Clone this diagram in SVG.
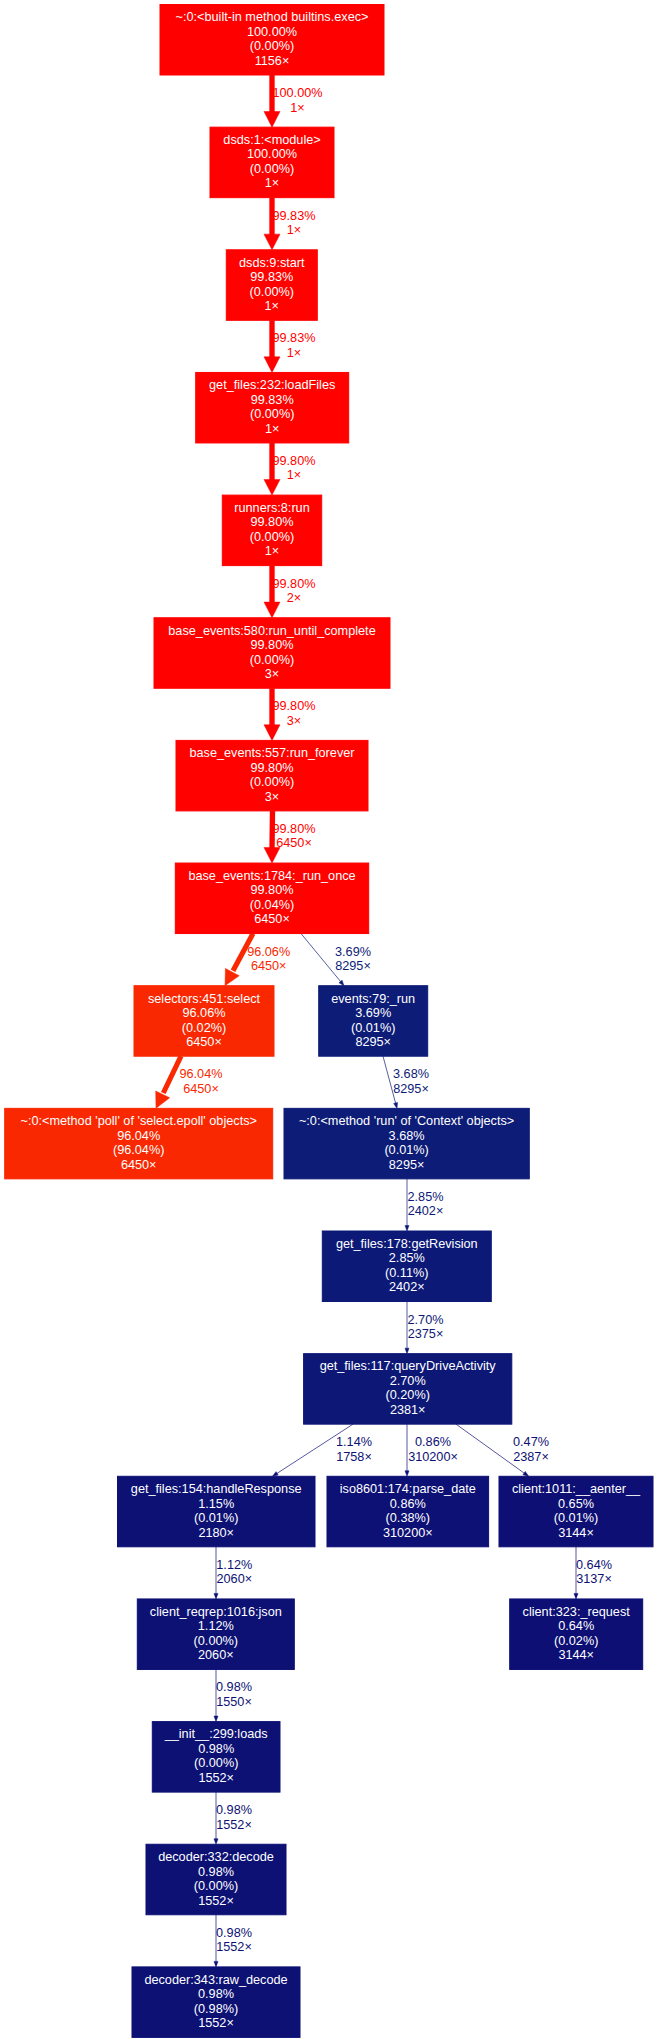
<svg xmlns="http://www.w3.org/2000/svg" width="658" height="2043" viewBox="0 0 658 2043">
<style>
text { font-family: "Liberation Sans", Arial, sans-serif; font-size: 12.7px; text-anchor: middle; }
.node text { fill: #ffffff; }
.edges line { fill: none; }
.thick { stroke-width: 5.33; }
.thin { stroke-width: 0.7; }
.r0 { fill: #ff0000; stroke: #ff0000; }
.r1 { fill: #ff0200; stroke: #ff0200; }
.o1 { fill: #f92801; stroke: #f92801; }
.b1 { fill: #0d1c77; stroke: #0d1c77; }
.b2 { fill: #0d1977; stroke: #0d1977; }
.b3 { fill: #0d1876; stroke: #0d1876; }
.b4 { fill: #0d1174; stroke: #0d1174; }
.b5 { fill: #0d1074; stroke: #0d1074; }
.b6 { fill: #0d0f74; stroke: #0d0f74; }
.b7 { fill: #0d0f73; stroke: #0d0f73; }
.lr0 { fill: #ff0000; }
.lr1 { fill: #ff0200; }
.lo1 { fill: #f92801; }
.lb1 { fill: #0d1c77; }
.lb2 { fill: #0d1977; }
.lb3 { fill: #0d1876; }
.lb4 { fill: #0d1174; }
.lb5 { fill: #0d1074; }
.lb6 { fill: #0d0f74; }
.lb7 { fill: #0d0f73; }
</style>

<g id="edges" class="edges">
  <g id="e1">
    <line class="r0 thick" x1="272" y1="75" x2="272" y2="113"/>
    <polygon class="r0" stroke-width="0.5" points="272,127.15 264,111.5 280,111.5"/>
    <text class="lr0" x="297.5" y="97">100.00%</text>
    <text class="lr0" x="297.5" y="111.5">1×</text>
  </g>
  <g id="e2">
    <line class="r1 thick" x1="272" y1="197.65" x2="272" y2="235.8"/>
    <polygon class="r1" stroke-width="0.5" points="272,249.8 264,234.15 280,234.15"/>
    <text class="lr1" x="294" y="219.65">99.83%</text>
    <text class="lr1" x="294" y="234.15">1×</text>
  </g>
  <g id="e3">
    <line class="r1 thick" x1="272" y1="320.3" x2="272" y2="358.5"/>
    <polygon class="r1" stroke-width="0.5" points="272,372.45 264,356.8 280,356.8"/>
    <text class="lr1" x="294" y="342.3">99.83%</text>
    <text class="lr1" x="294" y="356.8">1×</text>
  </g>
  <g id="e4">
    <line class="r1 thick" x1="272" y1="442.95" x2="272" y2="481.1"/>
    <polygon class="r1" stroke-width="0.5" points="272,495.1 264,479.45 280,479.45"/>
    <text class="lr1" x="294" y="464.95">99.80%</text>
    <text class="lr1" x="294" y="479.45">1×</text>
  </g>
  <g id="e5">
    <line class="r1 thick" x1="272" y1="565.6" x2="272" y2="603.8"/>
    <polygon class="r1" stroke-width="0.5" points="272,617.75 264,602.1 280,602.1"/>
    <text class="lr1" x="294" y="587.6">99.80%</text>
    <text class="lr1" x="294" y="602.1">2×</text>
  </g>
  <g id="e6">
    <line class="r1 thick" x1="272" y1="688.25" x2="272" y2="726.4"/>
    <polygon class="r1" stroke-width="0.5" points="272,740.4 264,724.75 280,724.75"/>
    <text class="lr1" x="294" y="710.25">99.80%</text>
    <text class="lr1" x="294" y="724.75">3×</text>
  </g>
  <g id="e7">
    <line class="r1 thick" x1="272.5" y1="810.9" x2="272" y2="849"/>
    <polygon class="r1" stroke-width="0.5" points="272,863.05 264,847.4 280,847.4"/>
    <text class="lr1" x="294" y="832.9">99.80%</text>
    <text class="lr1" x="294" y="847.4">6450×</text>
  </g>
  <g id="e8">
    <line class="o1" stroke-width="5.12" x1="253" y1="933.55" x2="233" y2="970.7"/>
    <polygon class="o1" stroke-width="0.5" points="225,985.7 239.2,975.7 225.4,968.4"/>
    <text class="lo1" x="268.7" y="955.5">96.06%</text>
    <text class="lo1" x="268.7" y="970">6450×</text>
  </g>
  <g id="e9">
    <line class="b1 thin" x1="301" y1="933.55" x2="340.8" y2="981.8"/>
    <polygon class="b1" stroke-width="0.5" points="344,985.7 342.04,980.19 338.96,982.73"/>
    <text class="lb1" x="353" y="955.5">3.69%</text>
    <text class="lb1" x="353" y="970">8295×</text>
  </g>
  <g id="e10">
    <line class="o1" stroke-width="5.12" x1="181" y1="1056.2" x2="163.3" y2="1093"/>
    <polygon class="o1" stroke-width="0.5" points="156,1108.35 169.73,1097.74 155.67,1091"/>
    <text class="lo1" x="201" y="1078.2">96.04%</text>
    <text class="lo1" x="201" y="1092.7">6450×</text>
  </g>
  <g id="e11">
    <line class="b1 thin" x1="383" y1="1056.2" x2="395.6" y2="1103.2"/>
    <polygon class="b1" stroke-width="0.5" points="397,1108.35 397.5,1102.52 393.64,1103.56"/>
    <text class="lb1" x="411" y="1078.2">3.68%</text>
    <text class="lb1" x="411" y="1092.7">8295×</text>
  </g>
  <g id="e12">
    <line class="b2 thin" x1="407" y1="1178.85" x2="407" y2="1226"/>
    <polygon class="b2" stroke-width="0.5" points="407,1231 405,1225.5 409,1225.5"/>
    <text class="lb2" x="425.5" y="1200.85">2.85%</text>
    <text class="lb2" x="425.5" y="1215.35">2402×</text>
  </g>
  <g id="e13">
    <line class="b3 thin" x1="407" y1="1301.5" x2="407" y2="1348.6"/>
    <polygon class="b3" stroke-width="0.5" points="407,1353.65 405,1348.15 409,1348.15"/>
    <text class="lb3" x="425.5" y="1323.5">2.70%</text>
    <text class="lb3" x="425.5" y="1338">2375×</text>
  </g>
  <g id="e14">
    <line class="b4 thin" x1="353" y1="1424.15" x2="277" y2="1473.4"/>
    <polygon class="b4" stroke-width="0.5" points="272.5,1476.3 278.21,1474.99 276.03,1471.63"/>
    <text class="lb4" x="354" y="1446.15">1.14%</text>
    <text class="lb4" x="354" y="1460.65">1758×</text>
  </g>
  <g id="e15">
    <line class="b5 thin" x1="407" y1="1424.15" x2="407" y2="1471.3"/>
    <polygon class="b5" stroke-width="0.5" points="407,1476.3 405,1470.8 409,1470.8"/>
    <text class="lb5" x="433" y="1446.15">0.86%</text>
    <text class="lb5" x="433" y="1460.65">310200×</text>
  </g>
  <g id="e16">
    <line class="b7 thin" x1="456" y1="1424.15" x2="524" y2="1473"/>
    <polygon class="b7" stroke-width="0.5" points="528.6,1476.3 525.3,1471.47 522.96,1474.71"/>
    <text class="lb7" x="531" y="1446.15">0.47%</text>
    <text class="lb7" x="531" y="1460.65">2387×</text>
  </g>
  <g id="e17">
    <line class="b4 thin" x1="216" y1="1546.8" x2="216" y2="1594"/>
    <polygon class="b4" stroke-width="0.5" points="216,1598.95 214,1593.45 218,1593.45"/>
    <text class="lb4" x="234.3" y="1568.8">1.12%</text>
    <text class="lb4" x="234.3" y="1583.3">2060×</text>
  </g>
  <g id="e18">
    <line class="b6 thin" x1="576" y1="1546.8" x2="576" y2="1594"/>
    <polygon class="b6" stroke-width="0.5" points="576,1598.95 574,1593.45 578,1593.45"/>
    <text class="lb6" x="594" y="1568.8">0.64%</text>
    <text class="lb6" x="594" y="1583.3">3137×</text>
  </g>
  <g id="e19">
    <line class="b4 thin" x1="216" y1="1669.45" x2="216" y2="1716.6"/>
    <polygon class="b4" stroke-width="0.5" points="216,1721.6 214,1716.1 218,1716.1"/>
    <text class="lb4" x="234" y="1691.45">0.98%</text>
    <text class="lb4" x="234" y="1705.95">1550×</text>
  </g>
  <g id="e20">
    <line class="b4 thin" x1="216" y1="1792.1" x2="216" y2="1839.2"/>
    <polygon class="b4" stroke-width="0.5" points="216,1844.25 214,1838.75 218,1838.75"/>
    <text class="lb4" x="234" y="1814.1">0.98%</text>
    <text class="lb4" x="234" y="1828.6">1552×</text>
  </g>
  <g id="e21">
    <line class="b4 thin" x1="216" y1="1914.75" x2="216" y2="1961.9"/>
    <polygon class="b4" stroke-width="0.5" points="216,1966.9 214,1961.4 218,1961.4"/>
    <text class="lb4" x="234" y="1936.75">0.98%</text>
    <text class="lb4" x="234" y="1951.25">1552×</text>
  </g>
</g>

<g id="n_exec" class="node">
  <rect class="r0" x="160" y="4.5" width="224" height="70.5"/>
  <text x="272" y="21.3">~:0:&lt;built-in method builtins.exec&gt;</text>
  <text x="272" y="35.8">100.00%</text>
  <text x="272" y="50.3">(0.00%)</text>
  <text x="272" y="64.8">1156×</text>
</g>
<g id="n_module" class="node">
  <rect class="r0" x="210" y="127.15" width="124" height="70.5"/>
  <text x="272" y="143.95">dsds:1:&lt;module&gt;</text>
  <text x="272" y="158.45">100.00%</text>
  <text x="272" y="172.95">(0.00%)</text>
  <text x="272" y="187.45">1×</text>
</g>
<g id="n_start" class="node">
  <rect class="r1" x="226.3" y="249.8" width="91" height="70.5"/>
  <text x="271.8" y="266.6">dsds:9:start</text>
  <text x="271.8" y="281.1">99.83%</text>
  <text x="271.8" y="295.6">(0.00%)</text>
  <text x="271.8" y="310.1">1×</text>
</g>
<g id="n_loadFiles" class="node">
  <rect class="r1" x="195.7" y="372.45" width="153" height="70.5"/>
  <text x="272.2" y="389.25">get_files:232:loadFiles</text>
  <text x="272.2" y="403.75">99.83%</text>
  <text x="272.2" y="418.25">(0.00%)</text>
  <text x="272.2" y="432.75">1×</text>
</g>
<g id="n_runners" class="node">
  <rect class="r1" x="222.3" y="495.1" width="99.4" height="70.5"/>
  <text x="272" y="511.9">runners:8:run</text>
  <text x="272" y="526.4">99.80%</text>
  <text x="272" y="540.9">(0.00%)</text>
  <text x="272" y="555.4">1×</text>
</g>
<g id="n_run_until_complete" class="node">
  <rect class="r1" x="154" y="617.75" width="236" height="70.5"/>
  <text x="272" y="634.55">base_events:580:run_until_complete</text>
  <text x="272" y="649.05">99.80%</text>
  <text x="272" y="663.55">(0.00%)</text>
  <text x="272" y="678.05">3×</text>
</g>
<g id="n_run_forever" class="node">
  <rect class="r1" x="176" y="740.4" width="192" height="70.5"/>
  <text x="272" y="757.2">base_events:557:run_forever</text>
  <text x="272" y="771.7">99.80%</text>
  <text x="272" y="786.2">(0.00%)</text>
  <text x="272" y="800.7">3×</text>
</g>
<g id="n_run_once" class="node">
  <rect class="r1" x="175.3" y="863.05" width="193.4" height="70.5"/>
  <text x="272" y="879.85">base_events:1784:_run_once</text>
  <text x="272" y="894.35">99.80%</text>
  <text x="272" y="908.85">(0.04%)</text>
  <text x="272" y="923.35">6450×</text>
</g>
<g id="n_select" class="node">
  <rect class="o1" x="134" y="985.7" width="140" height="70.5"/>
  <text x="204" y="1002.5">selectors:451:select</text>
  <text x="204" y="1017">96.06%</text>
  <text x="204" y="1031.5">(0.02%)</text>
  <text x="204" y="1046">6450×</text>
</g>
<g id="n_events_run" class="node">
  <rect class="b1" x="318.7" y="985.7" width="109" height="70.5"/>
  <text x="373.2" y="1002.5">events:79:_run</text>
  <text x="373.2" y="1017">3.69%</text>
  <text x="373.2" y="1031.5">(0.01%)</text>
  <text x="373.2" y="1046">8295×</text>
</g>
<g id="n_poll" class="node">
  <rect class="o1" x="4.7" y="1108.35" width="268" height="70.5"/>
  <text x="138.7" y="1125.15">~:0:&lt;method 'poll' of 'select.epoll' objects&gt;</text>
  <text x="138.7" y="1139.65">96.04%</text>
  <text x="138.7" y="1154.15">(96.04%)</text>
  <text x="138.7" y="1168.65">6450×</text>
</g>
<g id="n_context_run" class="node">
  <rect class="b1" x="284" y="1108.35" width="245.3" height="70.5"/>
  <text x="406.6" y="1125.15">~:0:&lt;method 'run' of 'Context' objects&gt;</text>
  <text x="406.6" y="1139.65">3.68%</text>
  <text x="406.6" y="1154.15">(0.01%)</text>
  <text x="406.6" y="1168.65">8295×</text>
</g>
<g id="n_getRevision" class="node">
  <rect class="b2" x="322.3" y="1231" width="169" height="70.5"/>
  <text x="406.8" y="1247.8">get_files:178:getRevision</text>
  <text x="406.8" y="1262.3">2.85%</text>
  <text x="406.8" y="1276.8">(0.11%)</text>
  <text x="406.8" y="1291.3">2402×</text>
</g>
<g id="n_query" class="node">
  <rect class="b3" x="303.6" y="1353.65" width="208.2" height="70.5"/>
  <text x="407.7" y="1370.45">get_files:117:queryDriveActivity</text>
  <text x="407.7" y="1384.95">2.70%</text>
  <text x="407.7" y="1399.45">(0.20%)</text>
  <text x="407.7" y="1413.95">2381×</text>
</g>
<g id="n_handleResponse" class="node">
  <rect class="b4" x="117.5" y="1476.3" width="197.5" height="70.5"/>
  <text x="216.2" y="1493.1">get_files:154:handleResponse</text>
  <text x="216.2" y="1507.6">1.15%</text>
  <text x="216.2" y="1522.1">(0.01%)</text>
  <text x="216.2" y="1536.6">2180×</text>
</g>
<g id="n_parse_date" class="node">
  <rect class="b5" x="327" y="1476.3" width="161.6" height="70.5"/>
  <text x="407.8" y="1493.1">iso8601:174:parse_date</text>
  <text x="407.8" y="1507.6">0.86%</text>
  <text x="407.8" y="1522.1">(0.38%)</text>
  <text x="407.8" y="1536.6">310200×</text>
</g>
<g id="n_aenter" class="node">
  <rect class="b6" x="499" y="1476.3" width="154" height="70.5"/>
  <text x="576" y="1493.1">client:1011:__aenter__</text>
  <text x="576" y="1507.6">0.65%</text>
  <text x="576" y="1522.1">(0.01%)</text>
  <text x="576" y="1536.6">3144×</text>
</g>
<g id="n_json" class="node">
  <rect class="b4" x="137.3" y="1598.95" width="157" height="70.5"/>
  <text x="215.8" y="1615.75">client_reqrep:1016:json</text>
  <text x="215.8" y="1630.25">1.12%</text>
  <text x="215.8" y="1644.75">(0.00%)</text>
  <text x="215.8" y="1659.25">2060×</text>
</g>
<g id="n_request" class="node">
  <rect class="b6" x="509.7" y="1598.95" width="133" height="70.5"/>
  <text x="576.2" y="1615.75">client:323:_request</text>
  <text x="576.2" y="1630.25">0.64%</text>
  <text x="576.2" y="1644.75">(0.02%)</text>
  <text x="576.2" y="1659.25">3144×</text>
</g>
<g id="n_loads" class="node">
  <rect class="b4" x="152.3" y="1721.6" width="127.7" height="70.5"/>
  <text x="216.2" y="1738.4">__init__:299:loads</text>
  <text x="216.2" y="1752.9">0.98%</text>
  <text x="216.2" y="1767.4">(0.00%)</text>
  <text x="216.2" y="1781.9">1552×</text>
</g>
<g id="n_decode" class="node">
  <rect class="b4" x="146" y="1844.25" width="140" height="70.5"/>
  <text x="216" y="1861.05">decoder:332:decode</text>
  <text x="216" y="1875.55">0.98%</text>
  <text x="216" y="1890.05">(0.00%)</text>
  <text x="216" y="1904.55">1552×</text>
</g>
<g id="n_raw_decode" class="node">
  <rect class="b4" x="132" y="1966.9" width="168" height="70.5"/>
  <text x="216" y="1983.7">decoder:343:raw_decode</text>
  <text x="216" y="1998.2">0.98%</text>
  <text x="216" y="2012.7">(0.98%)</text>
  <text x="216" y="2027.2">1552×</text>
</g>
</svg>
